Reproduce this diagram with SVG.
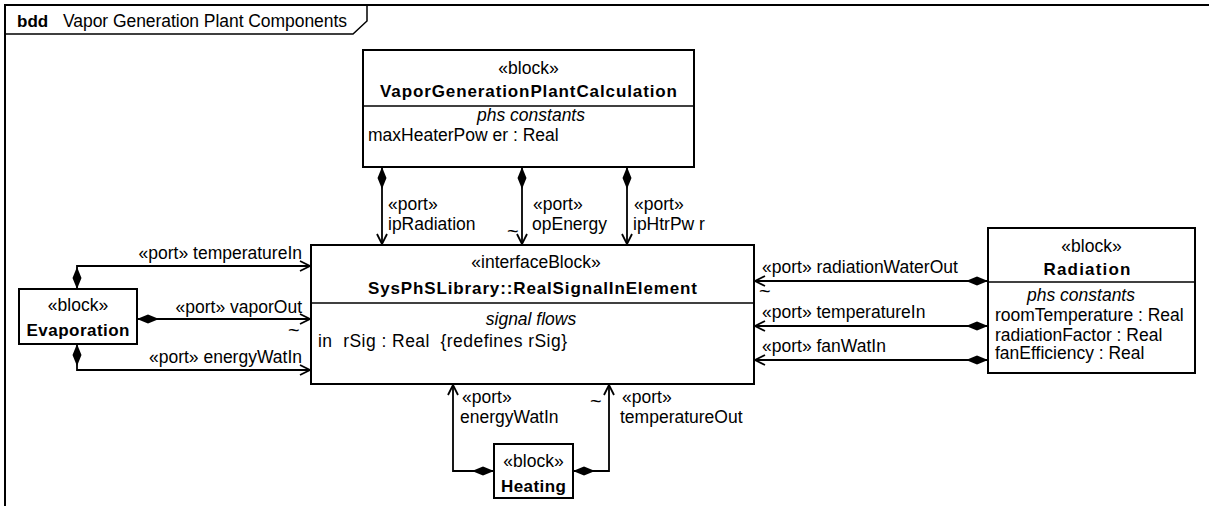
<svg xmlns="http://www.w3.org/2000/svg" width="1209" height="506" viewBox="0 0 1209 506">
<style>
text{font-family:"Liberation Sans",Arial,sans-serif;font-size:17.5px;fill:#000}
.b{font-weight:bold;font-size:17px}
.i{font-style:italic}
.c{text-anchor:middle}
.e{text-anchor:end}
.t{font-size:20px}
.box{fill:#fff;stroke:#000;stroke-width:2}
.sep{stroke:#000;stroke-width:1.5}
.con{fill:none;stroke:#000;stroke-width:1.8}
.pre{white-space:pre}
</style>
<defs>
<marker id="arr" markerWidth="12" markerHeight="12" refX="11" refY="6" orient="auto" markerUnits="userSpaceOnUse" viewBox="0 0 12 12"><path d="M1,1 L11,6 L1,11" fill="none" stroke="#000" stroke-width="1.8"/></marker>
<marker id="dia" markerWidth="22" markerHeight="10" refX="0" refY="5" orient="auto" markerUnits="userSpaceOnUse" viewBox="0 0 22 10"><path d="M0,5 L11,0.5 L22,5 L11,9.5 Z" fill="#000"/></marker>
</defs>
<rect width="1209" height="506" fill="#fff"/>
<g id="frame">
<path d="M5,506 L5,5 L1209,5" fill="none" stroke="#000" stroke-width="2"/>
<path d="M5,34 L353,34 L367,21 L367,5" fill="none" stroke="#000" stroke-width="1.5"/>
<text x="17" y="27" class="b">bdd</text>
<text x="63" y="27" textLength="284" lengthAdjust="spacing">Vapor Generation Plant Components</text>
</g>
<g id="connectors">
<path class="con" d="M382,167 L382,244" marker-start="url(#dia)" marker-end="url(#arr)"/>
<path class="con" d="M522,167 L522,244" marker-start="url(#dia)" marker-end="url(#arr)"/>
<path class="con" d="M627,167 L627,244" marker-start="url(#dia)" marker-end="url(#arr)"/>
<path class="con" d="M77,289 L77,266 L310,266" marker-start="url(#dia)" marker-end="url(#arr)"/>
<path class="con" d="M137,319 L310,319" marker-start="url(#dia)" marker-end="url(#arr)"/>
<path class="con" d="M77,344 L77,370 L310,370" marker-start="url(#dia)" marker-end="url(#arr)"/>
<path class="con" d="M988,281 L755,281" marker-start="url(#dia)" marker-end="url(#arr)"/>
<path class="con" d="M988,326 L755,326" marker-start="url(#dia)" marker-end="url(#arr)"/>
<path class="con" d="M988,360 L755,360" marker-start="url(#dia)" marker-end="url(#arr)"/>
<path class="con" d="M494,471 L453,471 L453,385" marker-start="url(#dia)" marker-end="url(#arr)"/>
<path class="con" d="M573,471 L609,471 L609,385" marker-start="url(#dia)" marker-end="url(#arr)"/>
<text x="388" y="210">«port»</text>
<text x="388" y="230">ipRadiation</text>
<text x="533" y="210">«port»</text>
<text x="532" y="230">opEnergy</text>
<text x="507" y="238" class="t">~</text>
<text x="634" y="210">«port»</text>
<text x="633" y="230" class="pre">ipHtrPw r</text>
<text x="302" y="259" class="e">«port» temperatureIn</text>
<text x="302" y="313" class="e">«port» vaporOut</text>
<text x="288" y="337" class="t">~</text>
<text x="302" y="363" class="e">«port» energyWatIn</text>
<text x="762" y="273">«port» radiationWaterOut</text>
<text x="759" y="298" class="t">~</text>
<text x="762" y="318">«port» temperatureIn</text>
<text x="762" y="352">«port» fanWatIn</text>
<text x="462" y="403">«port»</text>
<text x="460" y="423">energyWatIn</text>
<text x="590" y="408" class="t">~</text>
<text x="622" y="403">«port»</text>
<text x="620" y="423">temperatureOut</text>
</g>
<g id="VaporGenerationPlantCalculation">
<rect class="box" x="363" y="50" width="331" height="117"/>
<line class="sep" x1="363" y1="106" x2="694" y2="106"/>
<text x="528.5" y="74" class="c">«block»</text>
<text x="528.5" y="97" class="b c" textLength="297" lengthAdjust="spacing">VaporGenerationPlantCalculation</text>
<text x="531" y="121" class="i c">phs constants</text>
<text x="368" y="141" class="pre">maxHeaterPow er : Real</text>
</g>
<g id="RealSignalInElement">
<rect class="box" x="311" y="245" width="443" height="139"/>
<line class="sep" x1="311" y1="303" x2="754" y2="303"/>
<text x="536" y="268" class="c">«interfaceBlock»</text>
<text x="532.5" y="294" class="b c" textLength="329" lengthAdjust="spacing">SysPhSLibrary::RealSignalInElement</text>
<text x="531" y="325" class="i c">signal flows</text>
<text x="318" y="347" class="pre" textLength="249" lengthAdjust="spacing">in  rSig : Real  {redefines rSig}</text>
</g>
<g id="Evaporation">
<rect class="box" x="19" y="289" width="118" height="55"/>
<text x="78" y="311" class="c">«block»</text>
<text x="78" y="336" class="b c" textLength="103" lengthAdjust="spacing">Evaporation</text>
</g>
<g id="Radiation">
<rect class="box" x="988" y="228" width="207" height="145"/>
<line class="sep" x1="988" y1="282" x2="1195" y2="282"/>
<text x="1091.5" y="252" class="c">«block»</text>
<text x="1087" y="275" class="b c" textLength="87" lengthAdjust="spacing">Radiation</text>
<text x="1081" y="301" class="i c">phs constants</text>
<text x="995" y="321">roomTemperature : Real</text>
<text x="995" y="341">radiationFactor : Real</text>
<text x="995" y="359">fanEfficiency : Real</text>
</g>
<g id="Heating">
<rect class="box" x="494" y="444" width="79" height="54"/>
<text x="533.5" y="467" class="c">«block»</text>
<text x="533.5" y="492" class="b c" textLength="65" lengthAdjust="spacing">Heating</text>
</g>
</svg>
